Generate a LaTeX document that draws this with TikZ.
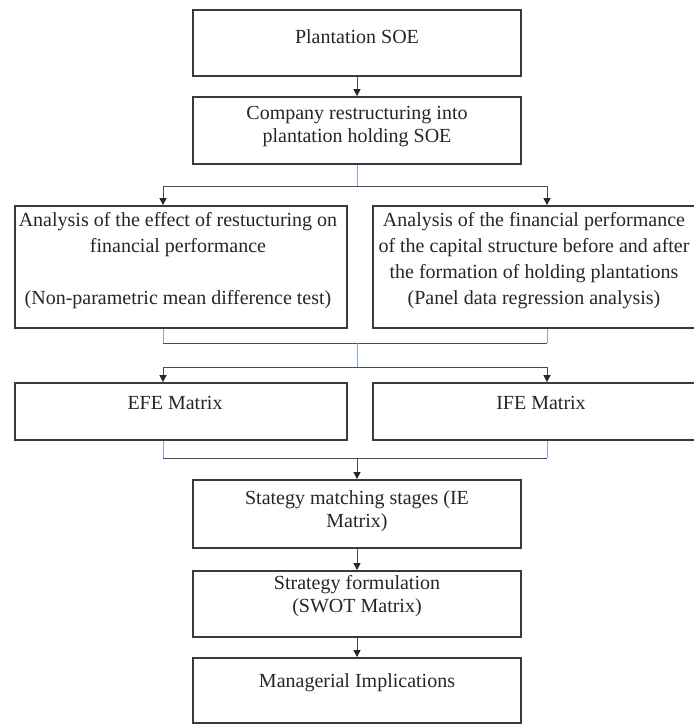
\documentclass[tikz,border=0pt]{standalone}
\usepackage{fontspec}
\setmainfont{Liberation Serif}
\usetikzlibrary{arrows.meta}
\definecolor{boxgray}{HTML}{3A3A3A}
\definecolor{linegray}{HTML}{4A4A4A}
\definecolor{linkblue}{HTML}{7FA8E0}
\begin{document}
\begin{tikzpicture}[x=1pt,y=-1pt,
  box/.style={draw=boxgray, line width=1.8pt, inner sep=0pt, fill=white},
  txt/.style={font=\fontsize{20}{23}\selectfont, align=center, inner sep=0pt, text=black!85},
  txtwide/.style={txt, font=\fontsize{20}{26}\selectfont},
  conn/.style={draw=linegray, line width=1pt},
  arr/.style={conn, -{Triangle[length=7pt,width=7pt,fill=black!85,color=black!85]}},
  bluel/.style={draw=linkblue, line width=1pt}]
\useasboundingbox (0,0) rectangle (694,724);

% boxes
\node[box, minimum width=328pt, minimum height=66pt] (b1) at (357,43) {};
\node[box, minimum width=328pt, minimum height=67pt] (b2) at (357,130.5) {};
\node[box, minimum width=332pt, minimum height=122pt] (a1) at (181,267) {};
\node[box, minimum width=332pt, minimum height=122pt] (a2) at (539,267) {};
\node[box, minimum width=332pt, minimum height=57pt] (e1) at (181,411.5) {};
\node[box, minimum width=332pt, minimum height=57pt] (e2) at (539,411.5) {};
\node[box, minimum width=328pt, minimum height=68pt] (s1) at (357,514) {};
\node[box, minimum width=328pt, minimum height=66pt] (s2) at (357,604) {};
\node[box, minimum width=328pt, minimum height=65pt] (s3) at (357,690.5) {};

% texts
\node[txt] (t1) at (357,37) {Plantation SOE};
\node[txt] (t2) at (357,127) {Company restructuring into\\plantation holding SOE};
\node[txtwide] (ta1) at (178,261) {Analysis of the effect of restucturing on\\financial performance\\\mbox{}\\(Non-parametric mean difference test)};
\node[txtwide] (ta2) at (534,261) {Analysis of the financial performance\\of the capital structure before and after\\the formation of holding plantations\\(Panel data regression analysis)};
\node[txt] (te1) at (175,403) {EFE Matrix};
\node[txt] (te2) at (541,403) {IFE Matrix};
\node[txt] (ts1) at (357,511) {Stategy matching stages (IE\\Matrix)};
\node[txt] (ts2) at (357,596) {Strategy formulation\\(SWOT Matrix)};
\node[txt] (ts3) at (357,683) {Managerial Implications};

% junction coordinates
\coordinate (sc1) at (357,186);
\coordinate (sL1) at (163,186);
\coordinate (sR1) at (547,186);
\coordinate (mc1) at (357,343);
\coordinate (sc2) at (357,367);
\coordinate (sL2) at (163,367);
\coordinate (sR2) at (547,367);
\coordinate (mc2) at (357,458);

% connectors
\draw[arr] (b1.south) -- (b2.north);
\draw[bluel] (b2.south) -- (sc1);
\draw[conn] (sL1) -- (sR1);
\draw[arr] (sL1) -- (sL1 |- a1.north);
\draw[arr] (sR1) -- (sR1 |- a2.north);

\draw[bluel] (sL1 |- a1.south) -- (sL1 |- mc1);
\draw[bluel] (sR1 |- a2.south) -- (sR1 |- mc1);
\draw[conn] (sL1 |- mc1) -- (sR1 |- mc1);
\draw[bluel] (mc1) -- (sc2);
\draw[conn] (sL2) -- (sR2);
\draw[arr] (sL2) -- (sL2 |- e1.north);
\draw[arr] (sR2) -- (sR2 |- e2.north);

\draw[bluel] (sL2 |- e1.south) -- (sL2 |- mc2);
\draw[bluel] (sR2 |- e2.south) -- (sR2 |- mc2);
\draw[conn] (sL2 |- mc2) -- (sR2 |- mc2);
\draw[arr] (mc2) -- (s1.north);
\draw[arr] (s1.south) -- (s2.north);
\draw[arr] (s2.south) -- (s3.north);
\end{tikzpicture}
\end{document}
